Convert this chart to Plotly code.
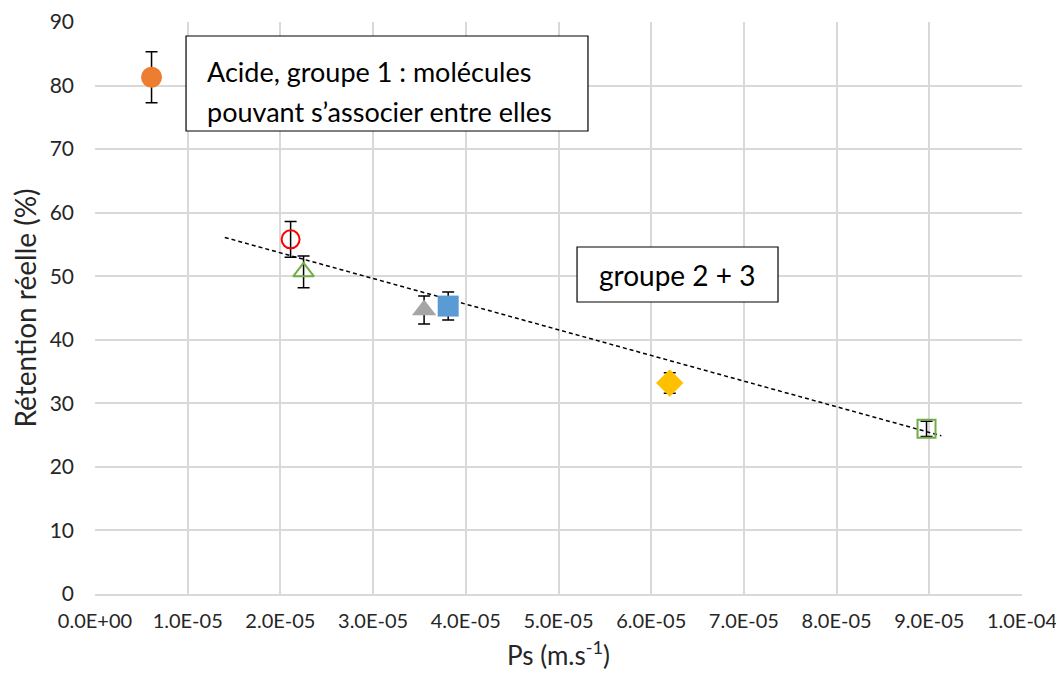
import plotly.graph_objects as go

# Ps (m.s-1) and retention (%) for each molecule, with error bar half-widths
ps_values = [6.1e-6, 2.11e-5, 2.25e-5, 3.55e-5, 3.81e-5, 6.2e-5, 8.97e-5]
retention = [81.3, 55.8, 50.7, 44.7, 45.3, 33.2, 26.0]
err = [4.0, 2.8, 2.5, 2.2, 2.2, 1.6, 1.2]

symbols = ["circle", "circle-open", "triangle-up-open", "triangle-up", "square", "diamond", "square-open"]
colors = ["#ed7d31", "#ff0000", "#70ad47", "#a5a5a5", "#5b9bd5", "#ffc000", "#70ad47"]

# linear trendline for group 2 + 3 (end points)
trend_x = [1.4e-5, 9.13e-5]
trend_y = [56.1, 24.9]

x_ticks = [i * 1e-5 for i in range(11)]
x_tick_labels = ["0.0E+00", "1.0E-05", "2.0E-05", "3.0E-05", "4.0E-05", "5.0E-05",
                 "6.0E-05", "7.0E-05", "8.0E-05", "9.0E-05", "1.0E-04"]

box1_lines = ["Acide, groupe 1 : molécules", "pouvant s’associer entre elles"]
box2_text = "groupe 2 + 3"

FONT = "Lato, Open Sans, sans-serif"
TEXT = "#262626"
GRID = "#d9d9d9"

fig = go.Figure()
fig.add_trace(
    go.Scatter(
        x=trend_x,
        y=trend_y,
        mode="lines",
        line=dict(color="black", width=1.5, dash="4px,3px"),
        showlegend=False,
        hoverinfo="skip",
    )
)
for px, r, e, s, c in zip(ps_values, retention, err, symbols, colors):
    open_marker = s.endswith("open")
    fig.add_trace(
        go.Scatter(
            x=[px],
            y=[r],
            mode="markers",
            marker=dict(
                symbol=s,
                size=18 if open_marker else 21,
                color=c,
                line=dict(color=c, width=2 if open_marker else 0),
            ),
            error_y=dict(type="data", array=[e], color="black", thickness=1.5, width=6),
            showlegend=False,
        )
    )

# text boxes (drawn as shapes so the line spacing can match)
fig.add_shape(type="rect", xref="paper", yref="paper", x0=0.0982, x1=0.5318, y0=0.8094, y1=0.9755,
              line=dict(color="black", width=1.2), fillcolor="white", layer="above")
fig.add_shape(type="rect", xref="paper", yref="paper", x0=0.520, x1=0.7368, y0=0.5105, y1=0.6066,
              line=dict(color="black", width=1.2), fillcolor="white", layer="above")
for line, ypos in zip(box1_lines, [0.9126, 0.8427]):
    fig.add_annotation(
        x=0.1187, y=ypos, xref="paper", yref="paper", xanchor="left", yanchor="middle",
        text=line, showarrow=False,
        font=dict(family=FONT, size=27, color="black"),
    )
fig.add_annotation(
    x=0.5415, y=0.5575, xref="paper", yref="paper", xanchor="left", yanchor="middle",
    text=box2_text, showarrow=False,
    font=dict(family=FONT, size=28, color="black"),
)

# the page body adds an 8 px offset, so the figure is a little smaller than the window
fig.update_layout(
    width=1056,
    height=672,
    plot_bgcolor="white",
    paper_bgcolor="white",
    margin=dict(l=87, r=42, t=14, b=86),
    font=dict(family=FONT, size=21, color=TEXT),
    xaxis=dict(
        range=[0, 1e-4],
        tickvals=x_ticks,
        ticktext=x_tick_labels,
        tickangle=0,
        tickfont=dict(size=20),
        ticklabelstandoff=8,
        ticklabeloverflow="allow",
        automargin=False,
        showgrid=True,
        gridcolor=GRID,
        gridwidth=1.5,
        zeroline=False,
        showline=True,
        linecolor=GRID,
        linewidth=1.5,
        ticks="",
        title=dict(text="Ps (m.s<sup>-1</sup>)", font=dict(size=26), standoff=16),
    ),
    yaxis=dict(
        range=[0, 90],
        dtick=10,
        ticklabelstandoff=20,
        ticklabeloverflow="allow",
        automargin=False,
        showgrid=True,
        gridcolor=GRID,
        gridwidth=1.5,
        zeroline=False,
        showline=False,
        ticks="",
        title=dict(text="Rétention réelle (%)", font=dict(size=28), standoff=14),
    ),
)

fig.write_html("out.html")
